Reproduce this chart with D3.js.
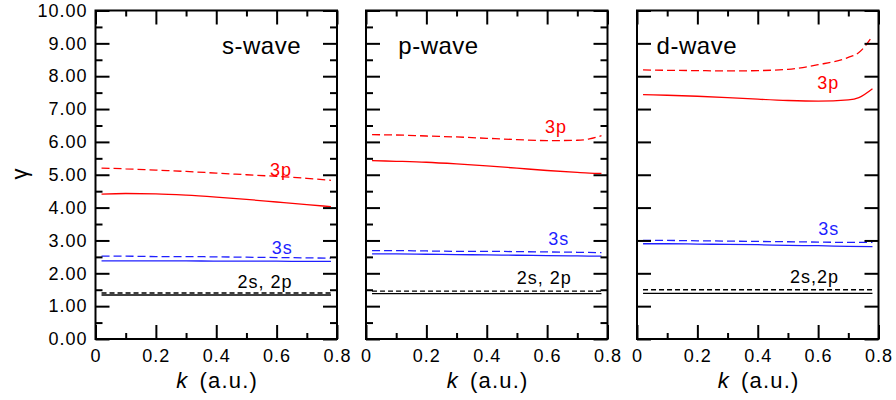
<!DOCTYPE html>
<html>
<head>
<meta charset="utf-8">
<script src="https://cdn.jsdelivr.net/npm/d3@7"></script>
<style>
  html, body { margin: 0; padding: 0; background: #fff; }
  svg { display: block; font-family: "Liberation Sans", Arial, Helvetica, sans-serif; }
</style>
</head>
<body>
<script>
// ---------------- data ----------------
const panelTitles = ["s-wave", "p-wave", "d-wave"];
const xTickValues = [0, 0.2, 0.4, 0.6, 0.8];
const xTickLabels = ["0", "0.2", "0.4", "0.6", "0.8"];
const xMinorValues = [0.1, 0.3, 0.5, 0.7];
const yTickValues = [0, 1, 2, 3, 4, 5, 6, 7, 8, 9, 10];
const yTickLabels = ["0.00", "1.00", "2.00", "3.00", "4.00", "5.00", "6.00", "7.00", "8.00", "9.00", "10.00"];
const yMinorValues = [0.5, 1.5, 2.5, 3.5, 4.5, 5.5, 6.5, 7.5, 8.5, 9.5];

const kBase = [0.02, 0.1, 0.2, 0.3, 0.4, 0.5, 0.6, 0.7, 0.78];
const kP3p  = [0.02, 0.1, 0.2, 0.3, 0.4, 0.5, 0.6, 0.7, 0.74, 0.78];
const kD3p  = [0.02, 0.1, 0.2, 0.3, 0.4, 0.5, 0.6, 0.7, 0.735, 0.78];

// s-wave
const s3pDashed = [5.20, 5.18, 5.14, 5.10, 5.05, 5.00, 4.95, 4.89, 4.83];
const s3pSolid  = [4.41, 4.43, 4.42, 4.38, 4.32, 4.25, 4.17, 4.09, 4.03];
const s3sDashed = [2.52, 2.52, 2.51, 2.51, 2.50, 2.49, 2.48, 2.47, 2.46];
const s3sSolid  = [2.38, 2.38, 2.38, 2.38, 2.37, 2.37, 2.37, 2.36, 2.36];
const s2sDashed = [1.40, 1.40, 1.40, 1.40, 1.40, 1.40, 1.40, 1.40, 1.40];
const s2sSolid  = [1.34, 1.34, 1.34, 1.34, 1.34, 1.34, 1.34, 1.34, 1.34];
// p-wave
const p3pDashed = [6.22, 6.21, 6.18, 6.15, 6.11, 6.07, 6.04, 6.05, 6.09, 6.19];
const p3pSolid  = [5.43, 5.41, 5.38, 5.33, 5.27, 5.20, 5.13, 5.07, 5.05, 5.04];
const p3sDashed = [2.69, 2.69, 2.68, 2.67, 2.67, 2.66, 2.65, 2.64, 2.63];
const p3sSolid  = [2.59, 2.59, 2.58, 2.57, 2.56, 2.55, 2.54, 2.53, 2.52];
const p2sDashed = [1.46, 1.46, 1.46, 1.46, 1.46, 1.46, 1.46, 1.46, 1.46];
const p2sSolid  = [1.38, 1.38, 1.38, 1.38, 1.38, 1.38, 1.38, 1.38, 1.38];
// d-wave
const d3pDashed = [8.19, 8.18, 8.17, 8.16, 8.17, 8.21, 8.35, 8.57, 8.72, 9.22];
const d3pSolid  = [7.44, 7.42, 7.39, 7.35, 7.30, 7.26, 7.24, 7.28, 7.35, 7.62];
const d3sDashed = [3.00, 3.00, 2.99, 2.98, 2.97, 2.96, 2.95, 2.94, 2.94];
const d3sSolid  = [2.90, 2.90, 2.89, 2.88, 2.87, 2.85, 2.84, 2.82, 2.81];
const d2sDashed = [1.50, 1.50, 1.50, 1.50, 1.50, 1.50, 1.50, 1.50, 1.50];
const d2sSolid  = [1.39, 1.39, 1.39, 1.39, 1.39, 1.39, 1.39, 1.39, 1.39];

const labelTexts = [["3p", "3s", "2s, 2p"], ["3p", "3s", "2s, 2p"], ["3p", "3s", "2s,2p"]];

// ---------------- layout ----------------
const W = 896, H = 400;
const RED = "#ff0000", BLUE = "#1f1fff", BLACK = "#000000";
const panelRanges = [[95.5, 337], [366, 607.5], [637, 878.5]];
const y = d3.scaleLinear().domain([0, 10]).range([339, 10.5]);

const panelSeries = [
  [
    {k: kBase, v: s3pDashed, c: RED, dash: true},
    {k: kBase, v: s3pSolid, c: RED},
    {k: kBase, v: s3sDashed, c: BLUE, dash: true},
    {k: kBase, v: s3sSolid, c: BLUE},
    {k: kBase, v: s2sDashed, c: BLACK, dash: true},
    {k: kBase, v: s2sSolid, c: BLACK}
  ],
  [
    {k: kP3p, v: p3pDashed, c: RED, dash: true},
    {k: kP3p, v: p3pSolid, c: RED},
    {k: kBase, v: p3sDashed, c: BLUE, dash: true},
    {k: kBase, v: p3sSolid, c: BLUE},
    {k: kBase, v: p2sDashed, c: BLACK, dash: true},
    {k: kBase, v: p2sSolid, c: BLACK}
  ],
  [
    {k: kD3p, v: d3pDashed, c: RED, dash: true},
    {k: kD3p, v: d3pSolid, c: RED},
    {k: kBase, v: d3sDashed, c: BLUE, dash: true},
    {k: kBase, v: d3sSolid, c: BLUE},
    {k: kBase, v: d2sDashed, c: BLACK, dash: true},
    {k: kBase, v: d2sSolid, c: BLACK}
  ]
];

// label anchor positions in data units (k, gamma) – layout only
const labelPos = [
  [[0.578, 4.97], [0.584, 2.59], [0.470, 1.54]],
  [[0.593, 6.26], [0.604, 2.86], [0.499, 1.67]],
  [[0.597, 7.60], [0.600, 3.17], [0.507, 1.71]]
];
const labelColors = [RED, BLUE, BLACK];
const titlePos = [[0.419, 8.67], [0.107, 8.67], [0.065, 8.67]];

const svg = d3.select("body").append("svg").attr("width", W).attr("height", H);

function styleAxis(g) {
  g.select(".domain").remove();
  g.selectAll(".tick line").attr("stroke", "#000").attr("stroke-width", 2);
  g.selectAll(".tick text")
    .attr("fill", "#000")
    .style("font-size", "18px")
    .style("letter-spacing", "1px");
}

panelRanges.forEach((rng, i) => {
  const x = d3.scaleLinear().domain([0, 0.8]).range(rng);
  const g = svg.append("g");

  // series
  const line = d3.line().x(d => x(d[0])).y(d => y(d[1])).curve(d3.curveMonotoneX);
  panelSeries[i].forEach(s => {
    g.append("path")
      .datum(s.k.map((k, j) => [k, s.v[j]]))
      .attr("d", line)
      .attr("fill", "none")
      .attr("stroke", s.c)
      .attr("stroke-width", 1.3)
      .attr("stroke-dasharray", s.dash ? (s.c === BLACK ? "5,3" : "8,4") : null);
  });

  // bottom axis
  g.append("g").attr("transform", `translate(0,${y(0)})`)
    .call(d3.axisBottom(x).tickValues(xTickValues).tickFormat((d, j) => xTickLabels[j])
      .tickSizeInner(-14).tickSizeOuter(0).tickPadding(10))
    .call(styleAxis);
  g.append("g").attr("transform", `translate(0,${y(0)})`)
    .call(d3.axisBottom(x).tickValues(xMinorValues).tickFormat("").tickSizeInner(-6).tickSizeOuter(0))
    .call(styleAxis);
  // top axis
  g.append("g").attr("transform", `translate(0,${y(10)})`)
    .call(d3.axisTop(x).tickValues(xTickValues).tickFormat("").tickSizeInner(-14).tickSizeOuter(0))
    .call(styleAxis);
  g.append("g").attr("transform", `translate(0,${y(10)})`)
    .call(d3.axisTop(x).tickValues(xMinorValues).tickFormat("").tickSizeInner(-6).tickSizeOuter(0))
    .call(styleAxis);
  // left axis
  g.append("g").attr("transform", `translate(${rng[0]},0)`)
    .call(d3.axisLeft(y).tickValues(yTickValues)
      .tickFormat(i === 0 ? ((d, j) => yTickLabels[j]) : "")
      .tickSizeInner(-14).tickSizeOuter(0).tickPadding(8))
    .call(styleAxis);
  // right axis
  g.append("g").attr("transform", `translate(${rng[1]},0)`)
    .call(d3.axisRight(y).tickValues(yTickValues).tickFormat("").tickSizeInner(-14).tickSizeOuter(0))
    .call(styleAxis);
  if (i < 2) {
    g.append("g").attr("transform", `translate(${rng[0]},0)`)
      .call(d3.axisLeft(y).tickValues(yMinorValues).tickFormat("").tickSizeInner(-7).tickSizeOuter(0))
      .call(styleAxis);
    g.append("g").attr("transform", `translate(${rng[1]},0)`)
      .call(d3.axisRight(y).tickValues(yMinorValues).tickFormat("").tickSizeInner(-7).tickSizeOuter(0))
      .call(styleAxis);
  }

  // frame
  g.append("rect")
    .attr("x", rng[0]).attr("y", y(10))
    .attr("width", rng[1] - rng[0]).attr("height", y(0) - y(10))
    .attr("fill", "none").attr("stroke", "#000").attr("stroke-width", 2);

  // title
  g.append("text")
    .attr("x", x(titlePos[i][0])).attr("y", y(titlePos[i][1]))
    .style("font-size", "24px").style("letter-spacing", "0.5px")
    .attr("fill", "#000")
    .text(panelTitles[i]);

  // curve labels
  labelTexts[i].forEach((t, j) => {
    g.append("text")
      .attr("x", x(labelPos[i][j][0])).attr("y", y(labelPos[i][j][1]))
      .style("font-size", "18px").style("letter-spacing", "1px")
      .attr("fill", labelColors[j])
      .text(t);
  });

  // x-axis title
  const xt = g.append("text")
    .attr("x", (rng[0] + rng[1]) / 2 + 1).attr("y", 388)
    .attr("text-anchor", "middle")
    .style("font-size", "22px").style("letter-spacing", "1.2px")
    .attr("fill", "#000");
  xt.append("tspan").style("font-style", "italic").text("k");
  xt.append("tspan").attr("dx", 11).text("(a.u.)");
});

// y-axis title
svg.append("text")
  .attr("transform", "translate(20,174) rotate(-90)")
  .attr("text-anchor", "middle")
  .attr("dy", "0.3em")
  .style("font-size", "22px")
  .attr("fill", "#000")
  .text("γ");
</script>
</body>
</html>
